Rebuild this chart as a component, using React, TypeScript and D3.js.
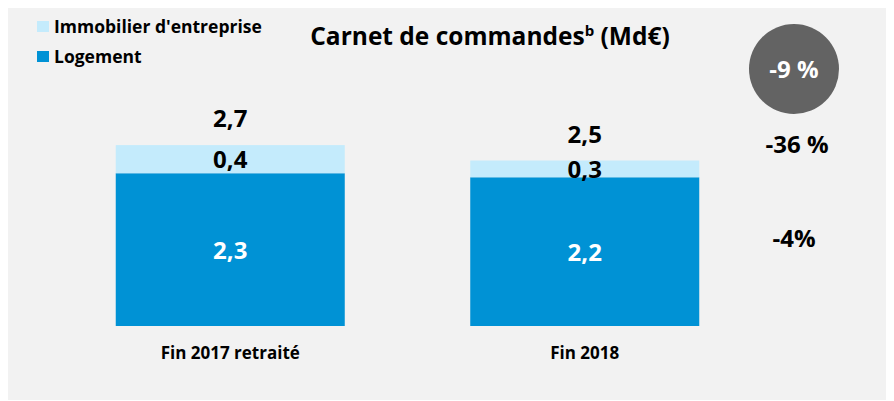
import React from "react";
import * as d3 from "d3";

const categories = ["Fin 2017 retraité", "Fin 2018"];
const logement = [2.28, 2.22];
const immobilier = [0.42, 0.25];
const logementLabels = ["2,3", "2,2"];
const immobilierLabels = ["0,4", "0,3"];
const totalLabels = ["2,7", "2,5"];
const variations = ["-9 %", "-36 %", "-4%"];
const legendItems = ["Immobilier d'entreprise", "Logement"];

const COLORS = { logement: "#0092D5", immobilier: "#C4EBFC", bg: "#F2F2F2", circle: "#636363" };
const FONT = "'Open Sans', 'DejaVu Sans', sans-serif";

export default function App() {
  const W = 886;
  const H = 392;
  const x = d3.scaleBand<string>().domain(categories).range([53, 762]).paddingInner(0.354).paddingOuter(0.177);
  const y = d3.scaleLinear().domain([0, 3]).range([326, 125]);

  return (
    <svg width={W} height={H} style={{ display: "block" }}>
      <rect x={0} y={0} width={W} height={H} fill={COLORS.bg} />
      <g transform="translate(-8,-8)" fontFamily={FONT} fontWeight="bold">
        {/* legend */}
        <rect x={37} y={21} width={12} height={11} fill={COLORS.immobilier} />
        <text x={54} y={33} fontSize={17.5} fill="#000">{legendItems[0]}</text>
        <rect x={37} y={51} width={12} height={11} fill={COLORS.logement} />
        <text x={54} y={63} fontSize={17.5} fill="#000">{legendItems[1]}</text>

        {/* title */}
        <text x={490} y={45} fontSize={24.5} textAnchor="middle" fill="#000">
          Carnet de commandes<tspan fontSize={15} dy={-9}>b</tspan>
          <tspan dy={9}> (Md€)</tspan>
        </text>

        {/* bars */}
        {categories.map((c, i) => {
          const x0 = x(c)!;
          const bw = x.bandwidth();
          const yL = y(logement[i]);
          const yT = y(logement[i] + immobilier[i]);
          const cx = x0 + bw / 2;
          return (
            <g key={c}>
              <rect x={x0} y={yL} width={bw} height={y(0) - yL} fill={COLORS.logement} />
              <rect x={x0} y={yT} width={bw} height={yL - yT} fill={COLORS.immobilier} />
              <text x={cx} y={(yL + y(0)) / 2 + 9} fontSize={24} textAnchor="middle" fill="#fff">{logementLabels[i]}</text>
              <text x={cx} y={(yT + yL) / 2 + 9} fontSize={24} textAnchor="middle" fill="#000">{immobilierLabels[i]}</text>
              <text x={cx} y={yT - 18} fontSize={24} textAnchor="middle" fill="#000">{totalLabels[i]}</text>
              <text x={cx} y={359} fontSize={17} textAnchor="middle" fill="#000">{c}</text>
            </g>
          );
        })}

        {/* variations */}
        <circle cx={794} cy={69} r={45} fill={COLORS.circle} />
        <text x={794} y={78} fontSize={24} textAnchor="middle" fill="#fff">{variations[0]}</text>
        <text x={797} y={153} fontSize={24} textAnchor="middle" fill="#000">{variations[1]}</text>
        <text x={794} y={247} fontSize={24} textAnchor="middle" fill="#000">{variations[2]}</text>
      </g>
    </svg>
  );
}
